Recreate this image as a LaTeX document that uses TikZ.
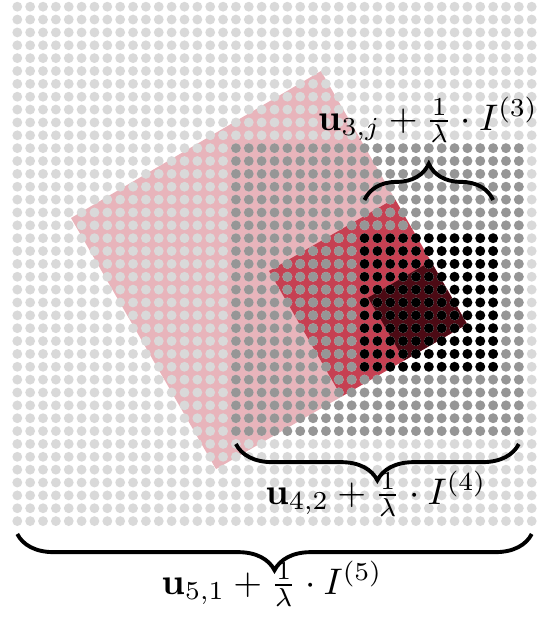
\documentclass[tikz,border=0pt]{standalone}
\usetikzlibrary{decorations.pathreplacing}
\definecolor{lightdot}{RGB}{217,217,217}
\definecolor{middot}{RGB}{150,150,150}
\definecolor{pinkfill}{RGB}{232,180,187}
\definecolor{redfill}{RGB}{198,64,82}
\definecolor{darkfill}{RGB}{76,10,20}
\begin{document}
\begin{tikzpicture}[x=0.2703pt,y=-0.2703pt,
  bracestyle/.style={decorate,decoration={brace,amplitude=9.8pt},line width=1.05pt},
  lbl/.style={inner sep=0pt},
  dotr/.style={radius=1.33pt}]
\useasboundingbox (0,0) rectangle (550,617);
% rotated squares sharing the right corner
\fill[pinkfill] (71,218) -- (321,71) -- (467.1,324.1) -- (216,469.1) -- cycle;
\fill[redfill] (269,271) -- (394.6,198.5) -- (467.1,324.1) -- (341.5,396.6) -- cycle;
\fill[darkfill] (368.1,297.6) -- (430.9,261.3) -- (467.1,324.1) -- (404.4,360.4) -- cycle;
% dot grids
\foreach \i in {0,...,40}
  \foreach \j in {0,...,40}
    \fill[lightdot] ({17.3+12.86*\i},{6.7+12.86*\j}) circle[dotr];
\foreach \i in {17,...,39}
  \foreach \j in {11,...,33}
    \fill[middot] ({17.3+12.86*\i},{6.7+12.86*\j}) circle[dotr];
\foreach \i in {27,...,37}
  \foreach \j in {18,...,28}
    \fill[black] ({17.3+12.86*\i},{6.7+12.86*\j}) circle[dotr];
% braces
\coordinate (b3l) at (364.5,200);
\coordinate (b3r) at (493.1,200);
\coordinate (b4l) at (235.9,444);
\coordinate (b4r) at (518.8,444);
\coordinate (b5l) at (17.3,534);
\coordinate (b5r) at (531.7,534);
\draw[bracestyle] (b3l) -- (b3r);
\draw[bracestyle] (b4r) -- (b4l);
\draw[bracestyle] (b5r) -- (b5l);
% labels
\node[lbl] (l3) at (428,120) {$\mathbf{u}_{3,j}+\frac{1}{\lambda}\cdot I^{(3)}$};
\node[lbl] (l4) at (376,494) {$\mathbf{u}_{4,2}+\frac{1}{\lambda}\cdot I^{(4)}$};
\node[lbl] (l5) at (272,584) {$\mathbf{u}_{5,1}+\frac{1}{\lambda}\cdot I^{(5)}$};
\end{tikzpicture}
\end{document}
